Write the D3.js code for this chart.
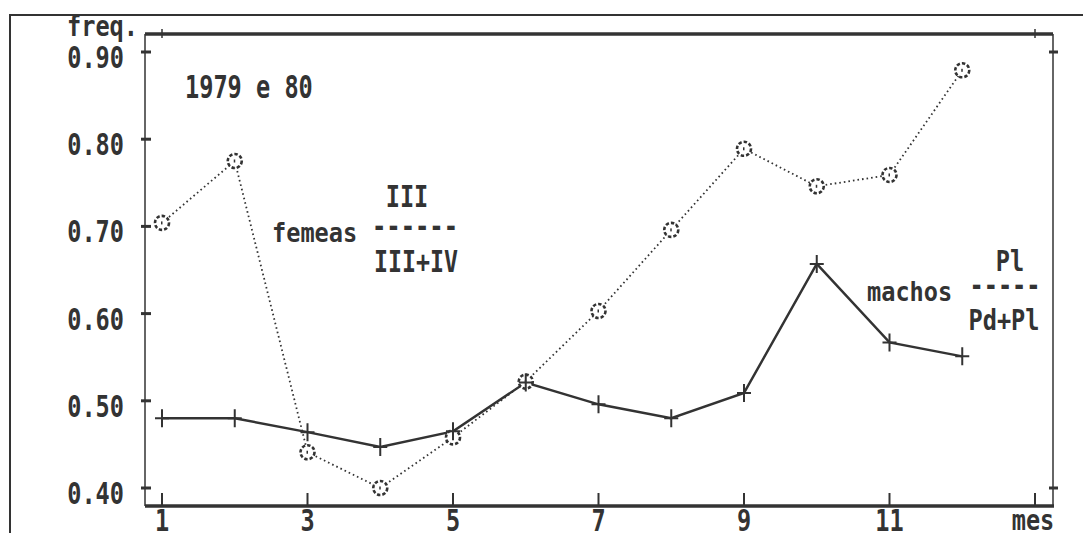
<!DOCTYPE html>
<html>
<head>
<meta charset="utf-8">
<script src="https://cdn.jsdelivr.net/npm/d3@7"></script>
<style>
  body { margin: 0; background: #fff; }
  text { font-family: "DejaVu Sans Mono", monospace; font-weight: bold; fill: #333; }
</style>
</head>
<body>
<svg width="1083" height="533"></svg>
<script>
// frequencias mensais, 1979 e 80
var meses = [1, 2, 3, 4, 5, 6, 7, 8, 9, 10, 11, 12];
var femeas = [0.704, 0.775, 0.441, 0.400, 0.458, 0.522, 0.603, 0.696, 0.789, 0.746, 0.759, 0.879];
var machos = [0.480, 0.480, 0.464, 0.447, 0.465, 0.521, 0.496, 0.480, 0.509, 0.657, 0.567, 0.551];
var yTicks = [0.40, 0.50, 0.60, 0.70, 0.80, 0.90];
var xTicks = [1, 3, 5, 7, 9, 11];

var svg = d3.select("svg"),
    ink = "#333",
    pitch = 14.2;

var x = d3.scaleLinear().domain([1, 13]).range([162, 1035]),
    y = d3.scaleLinear().domain([0.4, 0.9]).range([488, 52]);

var pLeft = 145, pRight = 1053, pTop = 34, pBottom = 506;

// helper: monospace text squeezed to the old printer pitch
function label(str, px, py, size, anchor) {
  return svg.append("text")
      .attr("x", px)
      .attr("y", py)
      .attr("font-size", size)
      .attr("text-anchor", anchor || "start")
      .attr("textLength", str.length * pitch)
      .attr("lengthAdjust", "spacingAndGlyphs")
      .text(str);
}

// outer frame
svg.append("path")
    .attr("d", "M10,533V15H1083")
    .attr("fill", "none")
    .attr("stroke", ink)
    .attr("stroke-width", 2);

// plot frame: thick top/bottom, thin sides
svg.append("line").attr("x1", pLeft).attr("x2", pRight).attr("y1", pTop).attr("y2", pTop)
    .attr("stroke", ink).attr("stroke-width", 3.5);
svg.append("line").attr("x1", pLeft).attr("x2", pRight + 1).attr("y1", pBottom).attr("y2", pBottom)
    .attr("stroke", ink).attr("stroke-width", 3.5);
svg.append("line").attr("x1", pLeft).attr("x2", pLeft).attr("y1", pTop).attr("y2", pBottom)
    .attr("stroke", ink).attr("stroke-width", 1.5);
svg.append("line").attr("x1", pRight).attr("x2", pRight).attr("y1", pTop).attr("y2", pBottom)
    .attr("stroke", ink).attr("stroke-width", 1.5);

// y ticks + labels
svg.selectAll(".ytick")
  .data(yTicks)
  .enter().append("line")
    .attr("class", "ytick")
    .attr("x1", pLeft - 4).attr("x2", pLeft + 6)
    .attr("y1", function(d) { return y(d); })
    .attr("y2", function(d) { return y(d); })
    .attr("stroke", ink).attr("stroke-width", 3);

yTicks.forEach(function(d) {
  label(d3.format(".2f")(d), 124, y(d) + 16, 31, "end");
});

// right axis ticks only at the ends
svg.selectAll(".rtick")
  .data(d3.extent(yTicks))
  .enter().append("line")
    .attr("class", "rtick")
    .attr("x1", pRight - 4).attr("x2", pRight + 5)
    .attr("y1", function(d) { return y(d); })
    .attr("y2", function(d) { return y(d); })
    .attr("stroke", ink).attr("stroke-width", 3);

// x ticks + labels
svg.selectAll(".xtick")
  .data(xTicks.concat([13]))
  .enter().append("line")
    .attr("class", "xtick")
    .attr("x1", function(d) { return x(d); })
    .attr("x2", function(d) { return x(d); })
    .attr("y1", pBottom - 13).attr("y2", pBottom)
    .attr("stroke", ink).attr("stroke-width", 2);

xTicks.forEach(function(d) {
  label(String(d), x(d), 531, 31, "middle");
});
label("mes", x(13) - 2, 530, 28, "middle");

// top axis ticks at first and last
svg.selectAll(".ttick")
  .data([1, 13])
  .enter().append("line")
    .attr("class", "ttick")
    .attr("x1", function(d) { return x(d); })
    .attr("x2", function(d) { return x(d); })
    .attr("y1", pTop - 5).attr("y2", pTop + 4)
    .attr("stroke", ink).attr("stroke-width", 1.5);

label("freq.", 67, 36, 28);
label("1979 e 80", 185, 98, 32);

// series
var line = d3.line()
    .x(function(d, i) { return x(meses[i]); })
    .y(function(d) { return y(d); });

svg.append("path")
    .datum(femeas)
    .attr("d", line)
    .attr("fill", "none")
    .attr("stroke", ink)
    .attr("stroke-width", 1.8)
    .attr("stroke-dasharray", "1.6,3");

svg.append("path")
    .datum(machos)
    .attr("d", line)
    .attr("fill", "none")
    .attr("stroke", ink)
    .attr("stroke-width", 2.4);

// femeas markers: dotted rings
var ring = svg.selectAll(".ring")
  .data(femeas)
  .enter().append("g")
    .attr("class", "ring")
    .attr("transform", function(d, i) { return "translate(" + x(meses[i]) + "," + y(d) + ")"; });

ring.append("circle")
    .attr("r", 7)
    .attr("fill", "#fff")
    .attr("stroke", ink)
    .attr("stroke-width", 2.6)
    .attr("stroke-dasharray", "3.4,2");

ring.append("rect")
    .attr("x", -1).attr("y", -1.5).attr("width", 1.5).attr("height", 3)
    .attr("fill", ink);

// machos markers: crosses
var cross = svg.selectAll(".cross")
  .data(machos)
  .enter().append("g")
    .attr("class", "cross")
    .attr("transform", function(d, i) { return "translate(" + x(meses[i]) + "," + y(d) + ")"; });

cross.append("path")
    .attr("d", "M0,-9V9M-7,0H7")
    .attr("stroke", ink)
    .attr("stroke-width", 2);

// legends
label("femeas", 272, 242, 27);
label("III", 407, 207, 31, "middle");
label("------", 415, 237, 30, "middle").attr("textLength", 86);
label("III+IV", 416, 272, 31, "middle").attr("textLength", 84);

label("machos", 867, 301, 27);
label("Pl", 1010, 271, 29, "middle");
label("-----", 1005, 296, 30, "middle");
label("Pd+Pl", 1004, 330, 29, "middle");
</script>
</body>
</html>
